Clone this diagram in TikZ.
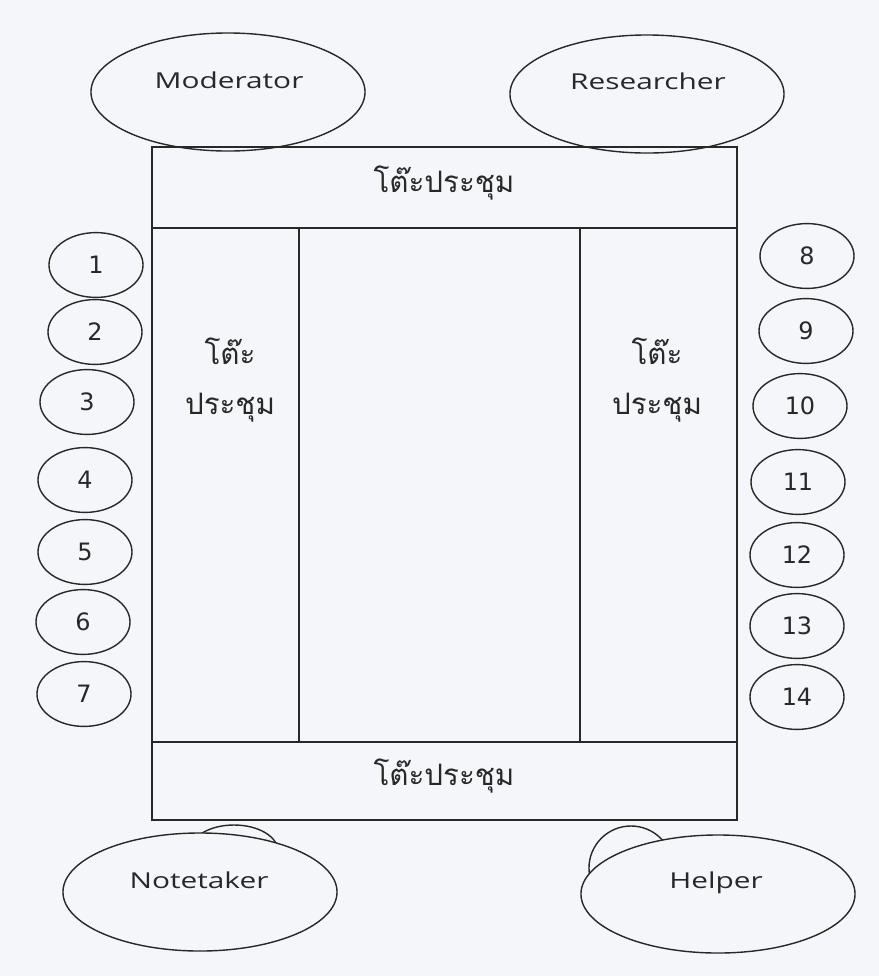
\documentclass[tikz,border=0pt]{standalone}
\usepackage{fontspec}
\setmainfont{DejaVu Sans}
\newfontfamily\thaifont[Script=Thai]{Loma}
\newfontfamily\rolefont[FakeStretch=1.36]{Open Sans}
\usetikzlibrary{shapes.geometric}
\definecolor{paper}{RGB}{244,246,249}
\definecolor{ink}{RGB}{40,40,40}

\begin{document}
\begin{tikzpicture}[x=0.025cm, y=-0.025cm, line width=1pt,
  role/.style={ellipse, draw=ink, minimum width=6.85cm, minimum height=2.95cm, inner sep=0pt},
  back/.style={ellipse, draw=ink, inner sep=0pt},
  seat/.style={ellipse, draw=ink, minimum width=2.35cm, minimum height=1.62cm, inner sep=0pt, text=ink, font=\fontsize{17}{20}\selectfont},
  roletext/.style={text=ink, font=\rolefont\fontsize{15.6}{18}\selectfont},
  tabletext/.style={text=ink, font=\thaifont\fontsize{21}{35}\selectfont, align=center}]
\useasboundingbox[fill=paper] (0,0) rectangle (879,976);

\draw[ink] (152,147) rectangle (737,820);
\draw[ink] (152,228) -- (737,228);
\draw[ink] (152,742) -- (737,742);
\draw[ink] (299,228) -- (299,742);
\draw[ink] (580,228) -- (580,742);
\node[tabletext] (ttop) at (444,183) {โต๊ะประชุม};
\node[tabletext] (tleft) at (230,380) {โต๊ะ\\ประชุม};
\node[tabletext] (tright) at (657,380) {โต๊ะ\\ประชุม};
\node[tabletext] (tbottom) at (444,776) {โต๊ะประชุม};

\node[role] (mod) at (228,92) {};
\node[roletext] (modtxt) at (229,80) {Moderator};
\node[role] (res) at (647,94) {};
\node[roletext] (restxt) at (648,81) {Researcher};

\node[back, minimum width=2.2cm, minimum height=1.3cm] (noteback) at (234,851) {};
\node[back, minimum width=2.1cm, minimum height=2.1cm] (helpback) at (631,868) {};
\node[role, fill=paper] (note) at (200,892) {};
\node[roletext] (notetxt) at (199,880) {Notetaker};
\node[role, fill=paper] (help) at (718,894) {};
\node[roletext] (helptxt) at (716,883) {Helper};

\node[seat] (s1) at (96,265) {1};
\node[seat] (s2) at (95,332) {2};
\node[seat] (s3) at (87,402) {3};
\node[seat] (s4) at (85,480) {4};
\node[seat] (s5) at (85,552) {5};
\node[seat] (s6) at (83,622) {6};
\node[seat] (s7) at (84,694) {7};

\node[seat] (s8) at (807,256) {8};
\node[seat] (s9) at (806,331) {9};
\node[seat] (s10) at (800,406) {10};
\node[seat] (s11) at (798,482) {11};
\node[seat] (s12) at (797,555) {12};
\node[seat] (s13) at (797,626) {13};
\node[seat] (s14) at (797,697) {14};

\end{tikzpicture}
\end{document}
